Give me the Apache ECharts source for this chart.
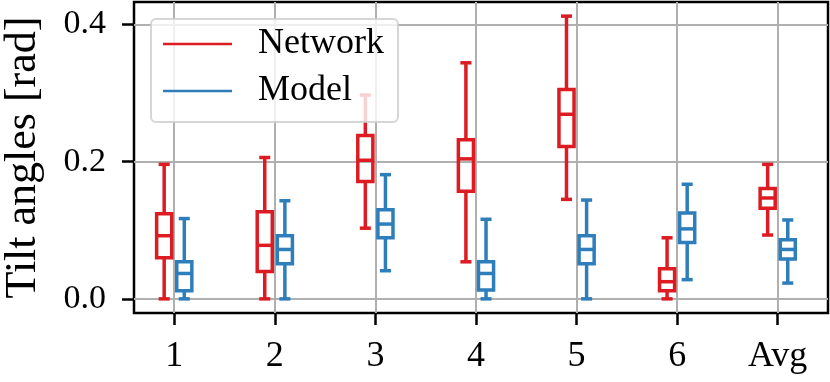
<!DOCTYPE html>
<html lang="en">
<head>
    <meta charset="UTF-8">
    <title>Tilt angles</title>
    <script src="https://cdn.jsdelivr.net/npm/echarts@6/dist/echarts.min.js"></script>
    <style>
      html, body { margin: 0; padding: 0; background: #fff; }
      #main { width: 830px; height: 382px; }
    </style>
</head>
<body>
    <div id="main"></div>
    <script>
      // categories on the x axis
      const categories = ["1", "2", "3", "4", "5", "6", "Avg"];
      // box stats per category: [min, Q1, median, Q3, max]
      const networkStats = [
        [0.0, 0.060, 0.092, 0.124, 0.196],
        [0.0, 0.040, 0.078, 0.127, 0.206],
        [0.103, 0.171, 0.202, 0.238, 0.297],
        [0.054, 0.157, 0.204, 0.232, 0.344],
        [0.145, 0.222, 0.269, 0.305, 0.412],
        [0.0, 0.012, 0.025, 0.044, 0.089],
        [0.093, 0.132, 0.147, 0.161, 0.196],
      ];
      const modelStats = [
        [0.0, 0.012, 0.037, 0.054, 0.117],
        [0.0, 0.051, 0.072, 0.092, 0.143],
        [0.041, 0.089, 0.109, 0.130, 0.181],
        [0.0, 0.013, 0.037, 0.054, 0.116],
        [0.0, 0.051, 0.072, 0.092, 0.144],
        [0.028, 0.082, 0.102, 0.125, 0.167],
        [0.023, 0.058, 0.072, 0.086, 0.115],
      ];
      const yTicks = [0, 0.2, 0.4];

      const RED = "#dc1c22";
      const BLUE = "#2e7ebc";
      const FONT = "Liberation Serif";
      const BOX_W = 0.15;
      const CAP_W = 0.11;
      const LW = 3.5;

      function toRows(stats) {
        return stats.map(function (s, i) {
          return [i].concat(s);
        });
      }

      function renderBox(offset, color) {
        return function (params, api) {
          const x = api.value(0) + offset;
          const lo = api.coord([x, api.value(1)]);
          const q1 = api.coord([x, api.value(2)]);
          const md = api.coord([x, api.value(3)]);
          const q3 = api.coord([x, api.value(4)]);
          const hi = api.coord([x, api.value(5)]);
          const w = api.size([BOX_W, 0])[0];
          const cw = api.size([CAP_W, 0])[0];
          const cx = lo[0];
          function ln(x1, y1, x2, y2) {
            return {
              type: "line",
              shape: { x1: x1, y1: y1, x2: x2, y2: y2 },
              style: { stroke: color, lineWidth: LW },
            };
          }
          return {
            type: "group",
            children: [
              ln(cx, lo[1], cx, q1[1]),
              ln(cx, q3[1], cx, hi[1]),
              ln(cx - cw / 2, lo[1], cx + cw / 2, lo[1]),
              ln(cx - cw / 2, hi[1], cx + cw / 2, hi[1]),
              {
                type: "rect",
                shape: { x: cx - w / 2, y: q3[1], width: w, height: q1[1] - q3[1] },
                style: { stroke: color, lineWidth: LW, fill: "none" },
              },
              ln(cx - w / 2, md[1], cx + w / 2, md[1]),
            ],
          };
        };
      }

      var myChart = echarts.init(document.getElementById("main"));
      var option = {
        animation: false,
        grid: {
          left: 134,
          right: 2,
          top: 2,
          bottom: 69,
          outerBoundsMode: "none",
          show: true,
          borderColor: "#000",
          borderWidth: 2.5,
          backgroundColor: "transparent",
        },
        legend: {
          orient: "vertical",
          left: 151,
          top: 19,
          padding: [7, 14, 13, 12],
          itemGap: 11,
          itemWidth: 69,
          itemHeight: 2.5,
          backgroundColor: "rgba(255,255,255,0.8)",
          borderColor: "rgba(204,204,204,0.8)",
          borderWidth: 2,
          borderRadius: 5,
          textStyle: {
            fontFamily: FONT,
            fontSize: 36,
            color: "#000",
            padding: [0, 0, 0, 21],
          },
          data: [
            { name: "Network", icon: "rect" },
            { name: "Model", icon: "rect" },
          ],
        },
        xAxis: {
          type: "value",
          min: -0.4,
          max: 6.5,
          axisLine: { show: false, onZero: false },
          axisTick: {
            inside: false,
            length: 12,
            lineStyle: { color: "#000", width: 2.5 },
            customValues: categories.map(function (c, i) { return i; }),
          },
          axisLabel: {
            margin: 26,
            fontFamily: FONT,
            fontSize: 36,
            color: "#000",
            customValues: categories.map(function (c, i) { return i; }),
            formatter: function (v) {
              return categories[Math.round(v)];
            },
          },
          splitLine: { show: true, lineStyle: { color: "#b0b0b0", width: 2 } },
        },
        yAxis: {
          type: "value",
          min: -0.0206,
          max: 0.4326,
          name: "Tilt angles [rad]",
          nameLocation: "middle",
          nameGap: 89,
          nameTextStyle: { fontFamily: FONT, fontSize: 44, color: "#000" },
          axisLine: { show: false, onZero: false },
          axisTick: {
            inside: false,
            length: 12,
            lineStyle: { color: "#000", width: 2.5 },
            customValues: yTicks,
          },
          axisLabel: {
            margin: 28,
            fontFamily: FONT,
            fontSize: 34,
            color: "#000",
            customValues: yTicks,
            formatter: function (v) {
              return v.toFixed(1);
            },
          },
          splitLine: { show: true, lineStyle: { color: "#b0b0b0", width: 2 } },
        },
        series: [
          {
            name: "Network",
            type: "custom",
            itemStyle: { color: RED },
            encode: { x: 0, y: [1, 2, 3, 4, 5] },
            renderItem: renderBox(-0.1, RED),
            data: toRows(networkStats),
          },
          {
            name: "Model",
            type: "custom",
            itemStyle: { color: BLUE },
            encode: { x: 0, y: [1, 2, 3, 4, 5] },
            renderItem: renderBox(0.1, BLUE),
            data: toRows(modelStats),
          },
        ],
      };
      option && myChart.setOption(option);
    </script>
</body>
</html>
